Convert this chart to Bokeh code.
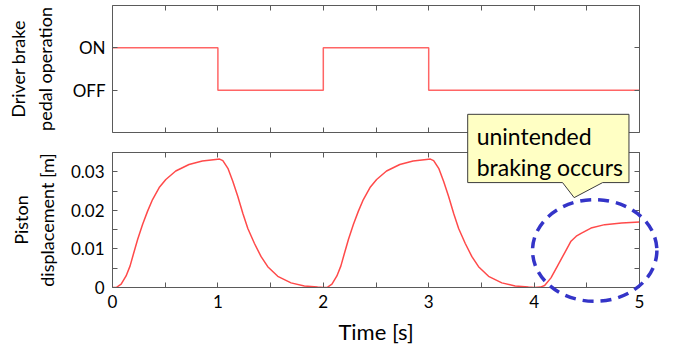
from bokeh.plotting import figure
from bokeh.models import Range1d, LinearAxis, FixedTicker, CustomJSTickFormatter
from bokeh.layouts import column
from bokeh.core.properties import value
from bokeh.embed import file_html
from bokeh.resources import INLINE

# ---------------- data ----------------
pedal_time = [0, 1, 2, 3, 5]
pedal_state = [1, 0, 1, 0, 0]          # 1 = ON, 0 = OFF
pedal_tick_values = [0, 1]
pedal_tick_labels = ["OFF", "ON"]

disp_time = [0, 0.035, 0.082, 0.129, 0.167, 0.198, 0.239, 0.286, 0.333, 0.38, 0.443, 0.506, 0.6,
             0.726, 0.852, 0.978, 1.016, 1.047, 1.095, 1.142, 1.189, 1.237, 1.284, 1.347,
             1.41, 1.473, 1.568, 1.694, 1.82, 1.946, 2.0,
             2.035, 2.082, 2.129, 2.167, 2.198, 2.239, 2.286, 2.333, 2.38, 2.443, 2.506, 2.6,
             2.726, 2.852, 2.978, 3.016, 3.047, 3.095, 3.142, 3.189, 3.237, 3.284, 3.347,
             3.41, 3.473, 3.568, 3.694, 3.82, 3.946, 4.0,
             4.06, 4.1, 4.16, 4.22, 4.29, 4.35, 4.4, 4.45, 4.54, 4.67, 4.83, 5.0]
disp_m = [0, 0, 0.0009, 0.003, 0.0056, 0.0086, 0.0125, 0.0164, 0.0198, 0.0228, 0.0259, 0.028, 0.0302,
          0.0319, 0.0328, 0.0332, 0.0333, 0.0329, 0.0309, 0.0275, 0.0236, 0.0192, 0.0153, 0.0114,
          0.008, 0.0054, 0.0029, 0.0012, 0.0004, 0.0001, 0.0,
          0, 0.0009, 0.003, 0.0056, 0.0086, 0.0125, 0.0164, 0.0198, 0.0228, 0.0259, 0.028, 0.0302,
          0.0319, 0.0328, 0.0332, 0.0333, 0.0329, 0.0309, 0.0275, 0.0236, 0.0192, 0.0153, 0.0114,
          0.008, 0.0054, 0.0029, 0.0012, 0.0004, 0.0001, 0.0,
          0.0001, 0.0005, 0.0025, 0.0055, 0.009, 0.012, 0.0133, 0.0141, 0.0154, 0.0163, 0.0167, 0.017]

time_ticks = [0, 1, 2, 3, 4, 5]
time_tick_labels = ["0", "1", "2", "3", "4", "5"]
time_minor_ticks = [0.5, 1.5, 2.5, 3.5, 4.5]
disp_ticks = [0, 0.01, 0.02, 0.03]
disp_tick_labels = ["0", "0.01", "0.02", "0.03"]
disp_minor_ticks = [0.005, 0.015, 0.025, 0.035]

callout_lines = ["unintended", "braking occurs"]

# ---------------- style / layout ----------------
FONT = "Lato"
AXC = "#5a5a5a"
RED = "#ff4a4a"
BLUE = "#3434c8"
CALLOUT_FILL = "#ffffc4"
CALLOUT_LINE = "#3c3c3c"

FW = 527
BORDER_LEFT, BORDER_RIGHT = 112, 22
F1_H, F2_H = 127, 135
F1_BT, F1_BB = 5, 17          # top panel borders (top, bottom)
F2_BT, F2_BB = 3, 52          # bottom panel borders (top, bottom)
# frame tops in a common vertical coordinate (fig1 canvas top = F1_TOP - F1_BT)
F1_TOP = 6
F2_TOP = F1_TOP - F1_BT + (F1_BT + F1_H + F1_BB) + F2_BT
X_RANGE = (0, 5)
Y1_RANGE = (-1, 2)
Y2_RANGE = (0, 0.035)

# callout geometry in the lower panel's data coordinates
CB_LEFT, CB_RIGHT = 3.37, 4.9
CB_TOP, CB_BOTTOM = 0.0449, 0.0272
PTR_L, PTR_TIP_X, PTR_R, PTR_TIP_Y = 4.27, 4.38, 4.65, 0.0233
TXT_X = 3.455
TXT_Y = [0.0376, 0.0298]      # baselines of the two lines (lower-panel data)
TXT_DY = -6                   # screen-pixel nudge of the baseline
ELL_X, ELL_Y, ELL_W, ELL_H = 4.575, 0.0096, 1.18, 0.0264


def y2_to_common(v):
    return F2_TOP + F2_H * (Y2_RANGE[1] - v) / (Y2_RANGE[1] - Y2_RANGE[0])


def common_to_y1(py):
    return Y1_RANGE[1] - (py - F1_TOP) / F1_H * (Y1_RANGE[1] - Y1_RANGE[0])


def to_y1(v):
    return common_to_y1(y2_to_common(v))


def style_axis(ax, ticks, minor, labels=None, font_size="17px"):
    ax.ticker = FixedTicker(ticks=ticks, minor_ticks=minor)
    ax.axis_line_color = AXC
    ax.major_tick_line_color = AXC
    ax.minor_tick_line_color = AXC
    ax.major_tick_in = 5
    ax.major_tick_out = 0
    ax.minor_tick_in = 5
    ax.minor_tick_out = 0
    ax.axis_label_text_font = FONT
    ax.axis_label_text_font_style = "normal"
    ax.axis_label_text_color = "black"
    if labels is None:
        ax.formatter = CustomJSTickFormatter(code="return ''")
        ax.major_label_text_font_size = "0px"
        ax.major_label_standoff = 0
        ax.axis_label_standoff = 0
    else:
        ax.major_label_overrides = {t: l for t, l in zip(ticks, labels)}
        ax.major_label_text_font = FONT
        ax.major_label_text_font_size = font_size
        ax.major_label_text_color = "black"
    return ax


def base_fig(frame_h, y_range, top, bottom):
    p = figure(frame_width=FW, frame_height=frame_h,
               min_border_left=BORDER_LEFT, min_border_right=BORDER_RIGHT,
               min_border_top=top, min_border_bottom=bottom,
               x_range=Range1d(*X_RANGE), y_range=Range1d(*y_range),
               x_axis_location=None, y_axis_location=None,
               output_backend="svg", toolbar_location=None)
    p.outline_line_color = None
    p.background_fill_color = "white"
    p.border_fill_color = "white"
    p.xgrid.visible = False
    p.ygrid.visible = False
    return p


# ---------------- top panel ----------------
p1 = base_fig(F1_H, Y1_RANGE, F1_BT, F1_BB)
p1.step(pedal_time, pedal_state, mode="after", line_color=RED, line_width=1.5, line_alpha=0.85)

ax = style_axis(LinearAxis(), pedal_tick_values, [], pedal_tick_labels)
ax.axis_label = "Driver brake\npedal operation"
ax.axis_label_text_font_size = "18px"
ax.major_label_standoff = 7
ax.axis_label_standoff = 14
p1.add_layout(ax, "left")
p1.add_layout(style_axis(LinearAxis(), pedal_tick_values, []), "right")
p1.add_layout(style_axis(LinearAxis(), time_ticks, time_minor_ticks), "above")
p1.add_layout(style_axis(LinearAxis(), time_ticks, time_minor_ticks), "below")

# ---------------- bottom panel ----------------
p2 = base_fig(F2_H, Y2_RANGE, F2_BT, F2_BB)
p2.line(disp_time, disp_m, line_color=RED, line_width=1.5)

ay = style_axis(LinearAxis(), disp_ticks, disp_minor_ticks, disp_tick_labels)
ay.axis_label = "Piston\ndisplacement [m]"
ay.axis_label_text_font_size = "18px"
ay.major_label_standoff = 8
ay.axis_label_standoff = 10
p2.add_layout(ay, "left")
p2.add_layout(style_axis(LinearAxis(), disp_ticks, disp_minor_ticks), "right")
p2.add_layout(style_axis(LinearAxis(), time_ticks, time_minor_ticks), "above")
axb = style_axis(LinearAxis(), time_ticks, time_minor_ticks, time_tick_labels)
axb.axis_label = "Time [s]"
axb.axis_label_text_font_size = "22px"
axb.major_label_standoff = 7
axb.axis_label_standoff = 7
p2.add_layout(axb, "below")

# ---------------- callout (drawn in both panels, each canvas shows its part) ----------------
cx = [CB_LEFT, CB_RIGHT, CB_RIGHT, PTR_R, PTR_TIP_X, PTR_L, CB_LEFT]
cy2 = [CB_TOP, CB_TOP, CB_BOTTOM, CB_BOTTOM, PTR_TIP_Y, CB_BOTTOM, CB_BOTTOM]
cy1 = [to_y1(v) for v in cy2]

p1.patch(cx, cy1, fill_color=CALLOUT_FILL, line_color=CALLOUT_LINE, line_width=1, level="overlay")
p2.patch(cx, cy2, fill_color=CALLOUT_FILL, line_color=CALLOUT_LINE, line_width=1, level="overlay")

p1.text(x=[TXT_X], y=[to_y1(TXT_Y[0])], text=[callout_lines[0]], text_font=value(FONT),
        text_font_size="23px", text_color="black", text_baseline="alphabetic",
        y_offset=TXT_DY, level="overlay")
p2.text(x=[TXT_X], y=[TXT_Y[1]], text=[callout_lines[1]], text_font=value(FONT),
        text_font_size="23px", text_color="black", text_baseline="alphabetic",
        y_offset=TXT_DY, level="overlay")

p2.ellipse(x=[ELL_X], y=[ELL_Y], width=[ELL_W], height=[ELL_H], fill_color=None,
           line_color=BLUE, line_width=3.5, line_dash="11 7", level="overlay")

layout = column(p1, p2, spacing=0)
open("out.html", "w").write(file_html(layout, INLINE))
